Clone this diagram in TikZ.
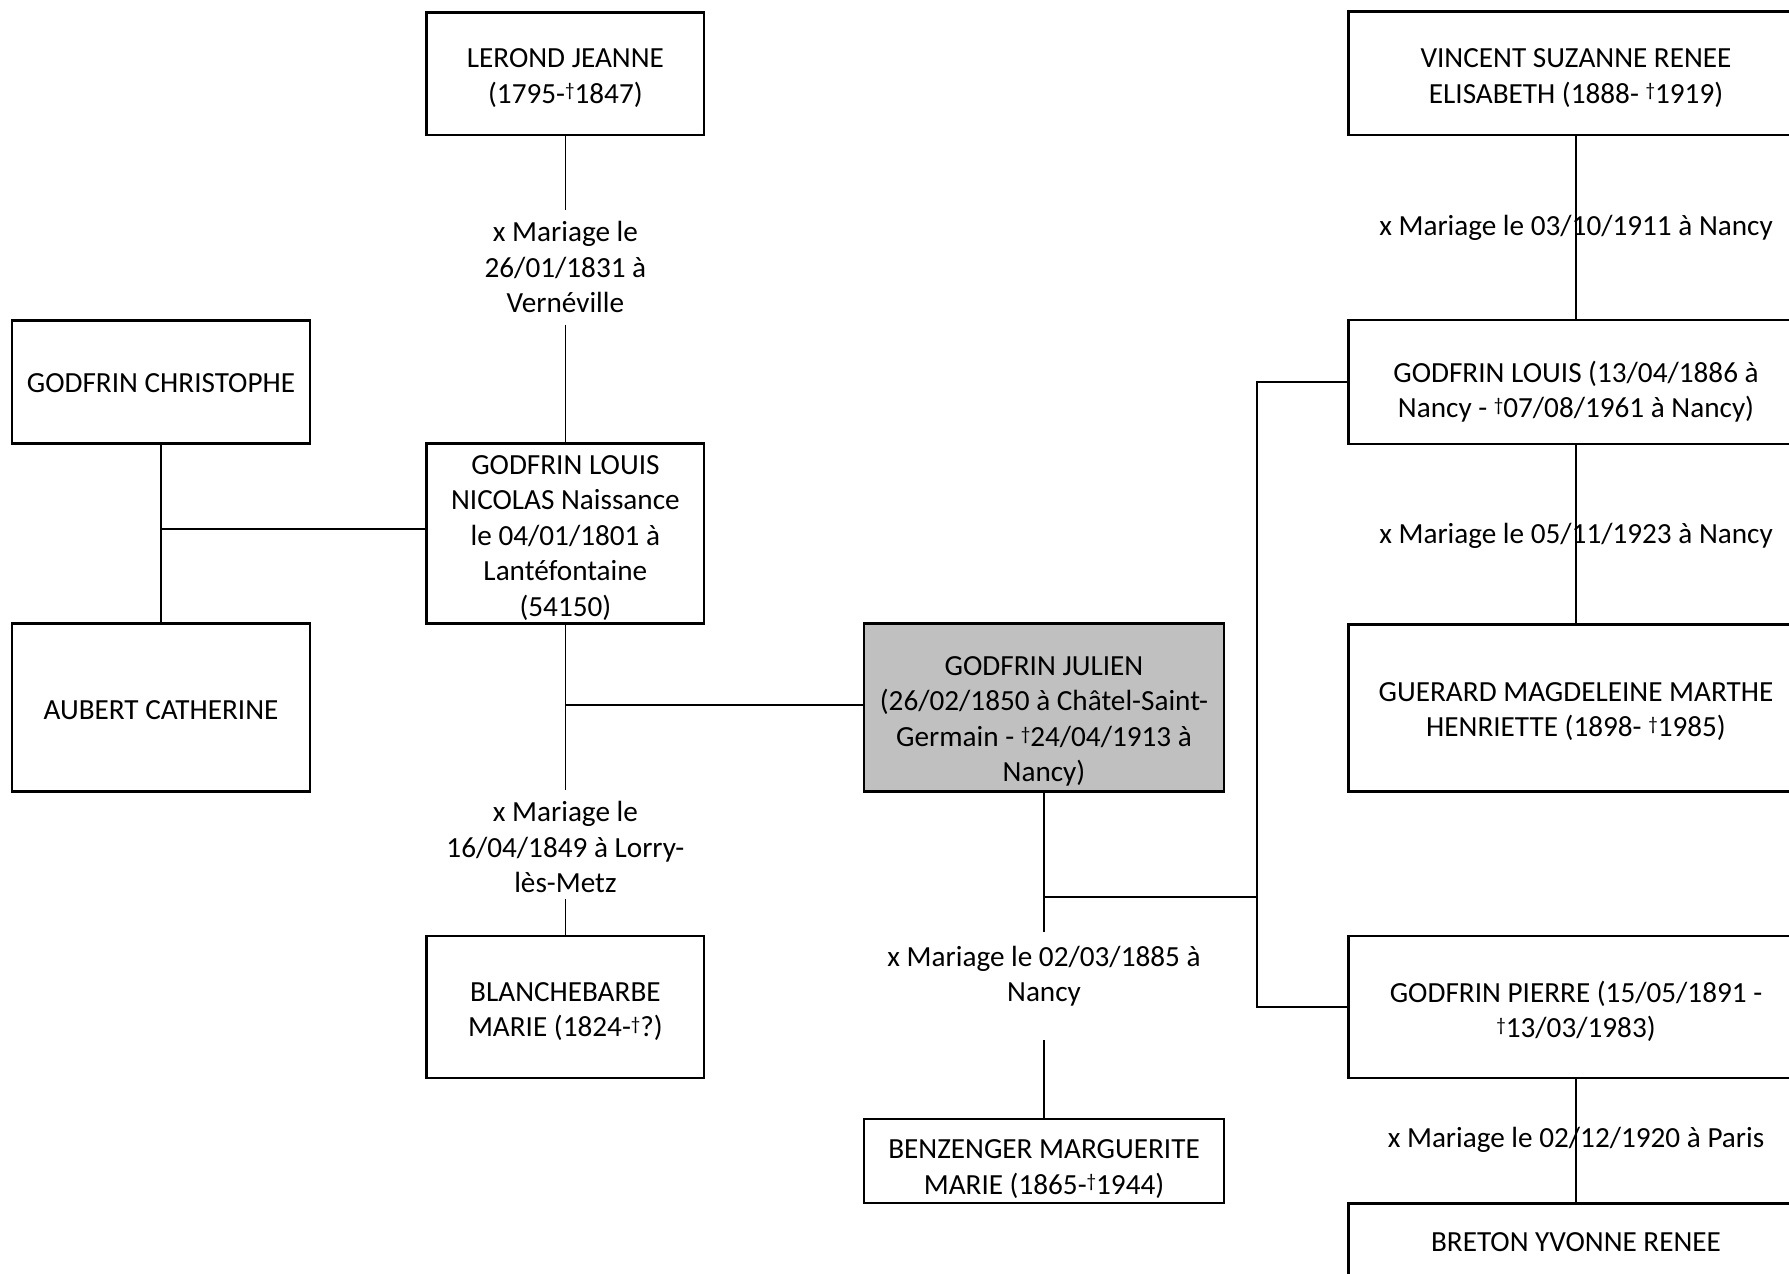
\documentclass[tikz,border=0pt]{standalone}
\usepackage{fontspec}
\setmainfont{Carlito}
\definecolor{boxgray}{HTML}{C0C0C0}
\newcommand{\dg}{\raisebox{3.2pt}{\fontsize{9.5}{9.5}\selectfont †}}
\begin{document}
\begin{tikzpicture}[x=0.5pt,y=-0.5pt,
  person/.style={draw=black, line width=1.25pt, inner sep=0pt},
  lbl/.style={align=center, inner sep=0pt, font=\fontsize{14.6}{17.75}\selectfont},
  link/.style={draw=black, line width=0.9pt}]
\useasboundingbox (0,0) rectangle (1789,1274);
\clip (0,0) rectangle (1789,1274);
% persons
\node[person, minimum width=138.7pt, minimum height=61.25pt,
  label={[lbl,yshift=-2.3pt]center:{LEROND JEANNE\\(1795-\dg1847)}}] (lerond) at (565.4,73.5) {};
\node[person, minimum width=149pt, minimum height=61.65pt,
  label={[lbl,yshift=-0.5pt]center:{GODFRIN CHRISTOPHE}}] (christophe) at (161,382) {};
\node[person, minimum width=138.7pt, minimum height=90pt,
  label={[lbl,yshift=-2pt]center:{GODFRIN LOUIS\\NICOLAS Naissance\\le 04/01/1801 à\\Lantéfontaine\\(54150)}}] (ln) at (565.4,533.7) {};
\node[person, minimum width=149pt, minimum height=84pt,
  label={[lbl,yshift=-1.2pt]center:{AUBERT CATHERINE}}] (aubert) at (161,707.6) {};
\node[person, fill=boxgray, minimum width=180pt, minimum height=84pt,
  label={[lbl,yshift=-7pt]center:{GODFRIN JULIEN\\(26/02/1850 à Châtel-Saint-\\Germain - \dg24/04/1913 à\\Nancy)}}] (julien) at (1044,707.6) {};
\node[person, minimum width=138.7pt, minimum height=71pt,
  label={[lbl,yshift=-2.3pt]center:{BLANCHEBARBE\\MARIE (1824-\dg?)}}] (blanche) at (565.4,1007) {};
\node[person, minimum width=180pt, minimum height=42pt,
  label={[lbl,yshift=-4pt]center:{BENZENGER MARGUERITE\\MARIE (1865-\dg1944)}}] (benz) at (1044,1161) {};
\node[person, minimum width=227.5pt, minimum height=61.65pt,
  label={[lbl,yshift=-2.3pt]center:{VINCENT SUZANNE RENEE\\ELISABETH (1888- \dg1919)}}] (vincent) at (1576,73.3) {};
\node[person, minimum width=227.5pt, minimum height=61.85pt,
  label={[lbl,yshift=-5pt]center:{GODFRIN LOUIS (13/04/1886 à\\Nancy - \dg07/08/1961 à Nancy)}}] (louis) at (1576,381.9) {};
\node[person, minimum width=227.5pt, minimum height=83.65pt,
  label={[lbl,yshift=-1.7pt]center:{GUERARD MAGDELEINE MARTHE\\HENRIETTE (1898- \dg1985)}}] (guerard) at (1576,708) {};
\node[person, minimum width=227.5pt, minimum height=70.85pt,
  label={[lbl,yshift=-2.3pt]center:{GODFRIN PIERRE (15/05/1891 -\\\dg13/03/1983)}}] (pierre) at (1576,1006.9) {};
\node[person, minimum width=227.5pt, minimum height=38.5pt,
  label={[lbl]center:{BRETON YVONNE RENEE}}] (breton) at (1576,1241.8) {};
% coordinates
\coordinate (g1a) at (565.4,210);
\coordinate (g1b) at (565.4,324.5);
\coordinate (g2a) at (565.4,789.6);
\coordinate (g2b) at (565.4,898.8);
\coordinate (g3a) at (1044,932);
\coordinate (g3b) at (1044,1040.3);
\coordinate (j1) at (161,528.6);
\coordinate (j2) at (565.4,704.7);
\coordinate (j3) at (1044,896.8);
\coordinate (j4) at (1256.8,896.8);
% connectors
\draw[link] (lerond.south) -- (g1a);
\draw[link] (g1b) -- (ln.north);
\draw[link] (christophe.south) -- (aubert.north);
\draw[link] (j1) -- (j1 -| ln.west);
\draw[link] (ln.south) -- (g2a);
\draw[link] (g2b) -- (blanche.north);
\draw[link] (j2) -- (j2 -| julien.west);
\draw[link] (julien.south) -- (g3a);
\draw[link] (g3b) -- (benz.north);
\draw[link] (j3) -- (j4);
\draw[link] (louis.west) -- (louis.west -| j4) -- (pierre.west -| j4) -- (pierre.west);
\draw[link] (vincent.south) -- (louis.north);
\draw[link] (louis.south) -- (guerard.north);
\draw[link] (pierre.south) -- (breton.north);
% labels
\node[lbl] (m1) at (565.4,267) {x Mariage le\\26/01/1831 à\\Vernéville};
\node[lbl] (m2) at (565.4,847.3) {x Mariage le\\16/04/1849 à Lorry-\\lès-Metz};
\node[lbl] (m3) at (1044,976) {x Mariage le 02/03/1885 à\\Nancy};
\node[lbl] (m4) at (1576,227.5) {x Mariage le 03/10/1911 à Nancy};
\node[lbl] (m5) at (1576,535.5) {x Mariage le 05/11/1923 à Nancy};
\node[lbl] (m6) at (1576,1139.5) {x Mariage le 02/12/1920 à Paris};
\end{tikzpicture}
\end{document}
